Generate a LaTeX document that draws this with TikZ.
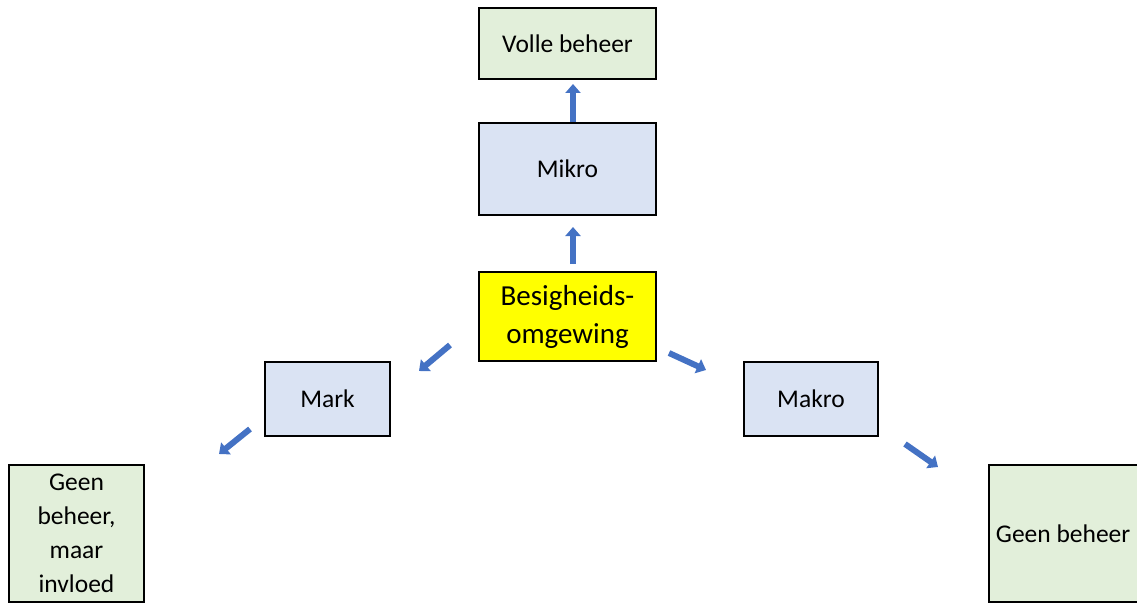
\documentclass[tikz,border=0pt]{standalone}
\usepackage{fontspec}
\setmainfont{Carlito}
\usetikzlibrary{arrows.meta}
\definecolor{boxgreen}{HTML}{E2EFDA}
\definecolor{boxblue}{HTML}{DAE3F3}
\definecolor{boxyellow}{HTML}{FFFF00}
\definecolor{arrowblue}{HTML}{4472C4}
\begin{document}
\begin{tikzpicture}[x=1pt,y=-1pt,
  box/.style={draw=black, line width=1.8pt, inner sep=0pt, align=center,
              font=\fontsize{25.5}{34}\selectfont, text=black},
  greenbox/.style={box, fill=boxgreen},
  bluebox/.style={box, fill=boxblue},
  yellowbox/.style={box, fill=boxyellow, font=\fontsize{29}{38}\selectfont},
  blockarrow/.style={draw=arrowblue, fill=arrowblue, line width=6pt,
              -{Triangle[width=15pt,length=9pt]}}
]
\useasboundingbox (0,0) rectangle (1137,604);
\clip (0,0) rectangle (1137,604);

% boxes
\node[greenbox, minimum width=177pt, minimum height=71pt] (volle) at (567.5,43.5) {Volle beheer};
\node[bluebox, minimum width=177pt, minimum height=92pt] (mikro) at (567.5,169) {Mikro};
\node[yellowbox, minimum width=177pt, minimum height=89pt] (besig) at (567.5,316.5) {Besigheids-\\omgewing};
\node[bluebox, minimum width=125pt, minimum height=74pt] (mark) at (327.5,399) {Mark};
\node[bluebox, minimum width=134pt, minimum height=74pt] (makro) at (811,399) {Makro};
\node[greenbox, minimum width=135pt, minimum height=137pt] (invloed) at (76.5,533.5) {Geen\\beheer,\\maar\\invloed};
% this box runs past the right edge of the page
\node[greenbox, anchor=west, minimum height=137pt, inner xsep=7pt]
  (geen) at (988,533.5) {\makebox[200pt][l]{Geen beheer}};

% arrow end points
\coordinate (a1s) at (573,122); \coordinate (a1e) at (573,84);
\coordinate (a2s) at (573,264); \coordinate (a2e) at (573,227);
\coordinate (a3s) at (450,345); \coordinate (a3e) at (419,371);
\coordinate (a4s) at (250,429); \coordinate (a4e) at (219,454);
\coordinate (a5s) at (669,353); \coordinate (a5e) at (706,370);
\coordinate (a6s) at (905,444); \coordinate (a6e) at (938,467);

% arrows
\draw[blockarrow] (a1s) -- (a1e);
\draw[blockarrow] (a2s) -- (a2e);
\draw[blockarrow] (a3s) -- (a3e);
\draw[blockarrow] (a4s) -- (a4e);
\draw[blockarrow] (a5s) -- (a5e);
\draw[blockarrow] (a6s) -- (a6e);
\end{tikzpicture}
\end{document}
